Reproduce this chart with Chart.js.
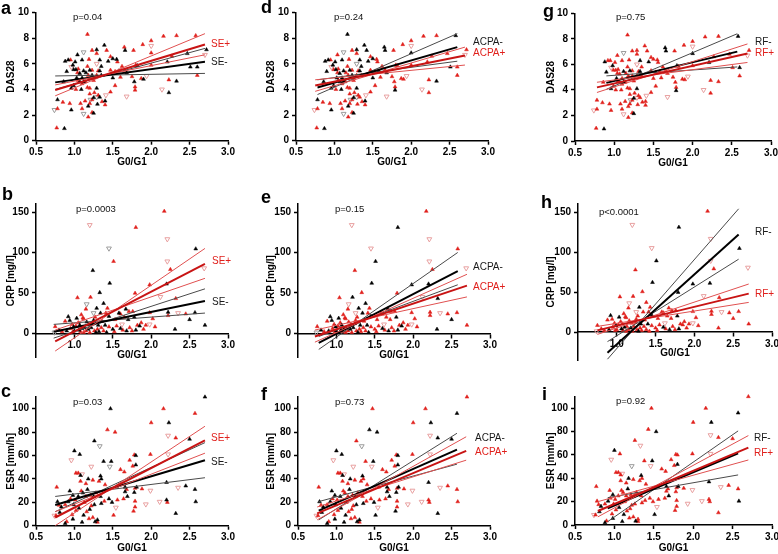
<!DOCTYPE html>
<html>
<head>
<meta charset="utf-8">
<title>G0/G1 vs DAS28, CRP and ESR</title>
<script src="https://cdn.jsdelivr.net/npm/chart.js@4.4.1/dist/chart.umd.min.js"></script>
<style>
  body { margin: 0; background: #fff; }
  #fig { position: relative; width: 778px; height: 554px; overflow: hidden; font-family: "Liberation Sans", Arial, sans-serif; }
  #fig canvas { position: absolute; }
  .txt { position: absolute; line-height: 0; white-space: nowrap; }
</style>
</head>
<body>
<div id="fig"></div>
<script>
// ---- tick labels ----
const X_TICKS = [0.5, 1.0, 1.5, 2.0, 2.5, 3.0];
const X_TICKS_CRP = [1.0, 1.5, 2.0, 2.5, 3.0];
const DAS_TICKS = [0, 2, 4, 6, 8, 10];
const CRP_TICKS = [0, 50, 100, 150];
const ESR_TICKS = [0, 20, 40, 60, 80, 100];

// ---- DAS28 patients (1 = SE+/ACPA+/RF+, open = hollow down triangle) ----
const dasX = [
  0.77,0.87,0.74,0.78,0.78,0.85,0.86,0.90,0.92,0.95,
  0.98,0.96,0.94,0.96,0.99,1.02,1.05,1.12,1.04,1.07,
  1.15,1.17,1.20,1.18,1.23,1.23,1.31,1.33,1.29,1.35,
  1.25,1.10,1.03,1.05,1.07,1.10,1.12,1.14,0.99,0.96,
  1.02,1.09,1.17,1.20,1.29,1.26,1.31,1.29,1.33,1.41,
  1.40,1.20,1.25,1.23,1.18,1.20,1.21,1.14,1.08,1.10,
  1.12,1.18,1.23,1.25,1.36,1.40,1.30,1.17,1.39,1.65,
  1.66,1.89,2.00,2.16,2.33,2.58,1.77,2.00,2.00,1.42,
  1.47,1.50,1.55,1.56,1.29,1.23,1.12,1.29,1.29,1.33,
  1.19,1.04,1.10,1.01,1.47,1.53,1.58,1.62,1.60,1.50,
  1.47,1.53,1.66,1.68,1.75,1.78,1.79,1.79,1.87,1.90,
  1.80,1.82,1.68,1.94,2.00,2.21,2.23,2.23,2.14,2.27,
  2.33,2.47,2.51,2.60,2.60,2.72,2.70,1.35,1.44,0.88];
const dasY = [
  1.0,0.95,2.4,2.5,3.2,3.0,4.6,5.4,6.3,6.3,
  5.9,5.75,2.9,2.4,5.55,5.55,5.6,5.45,5.3,5.25,
  5.3,5.8,5.5,5.1,5.5,5.1,5.45,5.45,5.1,5.1,
  4.7,4.9,4.9,4.7,4.6,4.45,4.6,4.6,4.3,4.1,
  4.0,4.0,4.15,4.1,4.1,3.75,3.55,3.4,3.4,3.55,
  3.1,3.65,3.35,3.2,2.7,2.9,3.2,3.1,2.9,2.5,
  2.1,1.85,2.2,2.15,3.05,2.8,2.85,8.3,7.45,7.3,
  7.05,7.5,7.8,8.15,8.2,8.2,7.05,7.4,6.85,7.05,
  6.55,6.4,6.35,6.15,7.1,7.05,6.9,6.8,6.0,6.3,
  6.35,6.7,6.3,6.15,5.5,5.4,5.45,5.8,4.95,4.9,
  3.8,4.3,5.5,5.3,5.0,4.6,4.2,3.95,4.85,4.8,
  5.9,5.85,3.45,5.05,5.9,6.15,4.75,3.75,4.0,6.6,
  4.65,6.8,5.75,5.75,5.1,7.1,6.7,5.8,6.2,6.2];
const dasSE = [
  1,0,0,1,0,1,0,0,0,1, 0,1,1,0,0,0,1,0,1,0, 0,1,0,1,1,0,1,0,1,0,
  1,0,0,1,0,1,0,1,0,0, 1,0,1,1,0,1,1,0,0,1, 0,1,0,1,0,1,0,1,1,1,
  0,1,1,0,1,1,0,1,0,1, 0,1,1,1,1,1,1,1,1,1, 1,0,0,1,0,1,0,1,1,0,
  1,0,0,0,1,1,0,1,1,0, 1,1,1,0,1,0,1,1,1,0, 1,0,1,1,1,0,1,0,1,1,
  0,0,0,0,1,0,1,0,0,0];
const dasACPA = [
  1,0,1,1,0,1,0,0,0,1, 0,1,1,0,1,0,1,0,1,0, 1,1,0,1,1,0,1,0,1,1,
  1,0,0,1,0,1,0,1,0,0, 1,0,1,1,0,1,1,0,1,1, 0,1,0,1,0,1,0,1,1,1,
  0,1,1,0,1,1,1,0,0,0, 0,1,1,1,1,0,1,1,0,0, 1,0,1,1,0,1,0,1,0,0,
  1,1,0,0,1,1,0,1,1,0, 1,1,1,0,1,1,1,0,1,1, 1,1,1,1,1,1,1,1,1,1,
  0,1,0,1,1,1,1,0,0,0];
const dasRF = [
  1,0,1,1,1,1,1,0,1,1, 0,1,1,1,1,1,1,0,1,1, 1,1,0,1,1,1,1,0,1,1,
  1,1,0,1,1,1,0,1,1,0, 1,1,1,1,0,1,1,1,1,1, 1,1,0,1,1,1,0,1,1,1,
  1,1,1,0,1,1,1,1,1,0, 0,1,1,1,1,0,1,1,0,1, 1,1,1,1,1,1,0,1,1,0,
  1,1,1,1,1,1,1,1,1,1, 1,1,1,1,1,1,1,0,1,1, 0,1,1,1,1,0,1,1,1,1,
  1,1,1,0,1,1,1,1,0,0];
const dasOpen = [
  0,0,1,0,0,0,0,0,0,0, 0,1,0,0,0,0,0,0,0,0, 0,0,0,0,0,0,0,0,0,0,
  0,0,0,0,0,0,0,0,0,0, 0,0,0,0,0,0,0,1,0,1, 0,0,0,0,0,0,1,0,0,0,
  1,0,0,0,0,0,0,0,0,0, 0,0,0,0,0,0,0,1,0,0, 0,0,0,0,0,0,1,0,1,0,
  0,0,0,0,0,0,0,0,0,0, 0,0,0,0,0,0,0,0,0,0, 0,0,1,1,0,0,0,0,1,0,
  0,0,0,0,0,0,1,0,0,0];

// ---- CRP patients ----
const crpX = [
  1.20,2.17,1.80,2.21,1.45,2.58,2.21,1.51,2.69,2.25,
  1.24,1.46,2.20,1.98,1.21,1.33,1.79,1.04,1.16,1.38,
  1.43,1.29,2.32,2.12,2.45,2.57,2.50,2.70,2.31,2.22,
  2.22,2.35,1.98,1.98,1.93,1.87,1.85,1.78,1.71,1.76,
  1.67,1.60,1.58,1.53,1.45,1.41,1.36,1.34,1.27,1.25,
  1.19,1.12,1.10,1.05,0.99,0.92,0.94,0.88,1.03,1.11,
  0.75,0.74,0.80,0.84,0.90,0.95,1.00,1.02,1.06,1.08,
  1.13,1.15,1.18,1.20,1.22,1.26,1.28,1.30,1.32,1.35,
  1.38,1.42,1.45,1.50,1.52,1.55,1.60,1.63,1.68,1.72,
  1.75,1.80,1.82,1.90,2.05,1.12,0.97,1.07,1.16,1.24,
  1.31,1.25,1.62,1.09,1.40,1.65,1.70,2.02,1.15,0.98];
const crpY = [
  134,151,131,116.5,105,104.5,89,89,80.5,79,
  77.7,62,61,60,44.6,50.4,49.6,44,36,37,
  31,31,43,45,24,25.6,17,10,5,26,
  22,25,25.6,11,10,13,9,20,27,27,
  30,24,25,17,21,25,15,25,20,16,
  11,18,6,13,8,20.6,16,15,18.6,19,
  8.3,1,4,2,3,6,3,9,4,2,
  7,3,5,1,7,3,1,5,2,7,
  3,1,8,5,2,9,6,4,3,7,
  3,4,10,5,8,1,11,10,14,12,
  10,25,11,23,10,20,17,18,30,2];
const crpSE = [
  1,1,1,1,0,0,1,1,1,1, 0,0,0,1,1,0,1,1,0,0, 1,0,1,1,1,0,0,0,0,0,
  1,1,1,1,1,1,0,0,1,1, 0,1,0,1,0,1,1,0,1,0, 1,1,0,1,0,0,0,1,0,1,
  1,0,0,1,0,1,0,1,0,1, 0,1,0,1,0,1,0,1,0,1, 1,0,1,0,1,1,0,1,0,1,
  1,0,1,1,1,1,1,0,0,1, 0,0,1,1,0,1,0,1,1,1];
const crpACPA = [
  1,1,0,1,1,1,1,0,1,1, 1,0,0,0,0,1,1,1,1,0, 1,0,0,1,1,1,0,1,0,1,
  1,1,1,1,1,1,0,0,1,1, 0,1,1,1,0,1,1,0,1,1, 1,1,0,1,0,0,0,1,0,1,
  1,0,0,1,0,1,0,1,0,1, 1,1,0,1,0,1,0,1,1,1, 1,0,1,1,1,1,0,1,0,1,
  1,0,1,1,1,1,1,0,1,1, 0,1,1,1,0,1,1,1,1,1];
const crpRF = [
  1,1,0,1,1,0,1,0,1,1, 1,0,0,0,1,1,0,1,1,1, 1,0,1,1,1,1,1,1,1,1,
  1,1,1,1,1,1,1,0,1,1, 1,1,1,1,0,1,1,1,1,1, 1,1,0,1,0,0,1,1,0,1,
  1,1,1,1,0,1,1,1,0,1, 1,1,0,1,1,1,0,1,1,1, 1,1,1,1,1,1,0,1,0,1,
  1,0,1,1,1,1,1,1,1,1, 0,1,1,1,0,1,1,1,1,1];
const crpOpen = [
  1,0,0,1,1,0,1,0,1,0, 0,0,0,0,0,0,0,0,1,0, 0,0,0,1,0,0,0,0,0,0,
  0,1,0,1,0,0,0,0,0,0, 0,0,0,0,0,0,0,0,0,0, 0,0,0,0,0,0,0,0,0,0,
  0,1,0,0,0,0,0,0,0,0, 0,0,0,0,0,0,0,0,0,0, 0,0,0,0,0,0,0,0,0,0,
  0,0,0,0,0,0,0,0,0,0, 0,1,1,0,0,0,0,0,0,0];

// ---- ESR patients ----
const esrX = [
  2.70,1.47,2.16,2.57,2.23,2.00,1.43,1.53,2.22,2.32,
  2.50,1.26,1.00,1.07,0.96,1.33,1.78,1.80,2.22,1.99,
  1.38,1.48,1.60,1.72,1.76,1.80,1.46,1.22,1.05,1.02,
  1.08,1.10,1.34,1.35,1.32,1.15,1.18,1.24,1.65,1.66,
  1.79,1.68,1.40,1.55,1.66,1.78,1.81,1.99,1.88,2.20,
  2.35,2.45,2.57,2.58,2.32,2.20,2.21,2.11,1.93,1.79,
  1.77,1.79,1.69,1.64,1.54,1.56,1.51,1.49,1.45,1.39,
  1.35,1.26,1.22,1.16,1.12,1.24,1.30,1.27,1.30,1.19,
  1.10,0.98,0.97,0.88,0.90,0.81,0.78,0.77,0.80,0.74,
  0.76,0.83,0.88,0.92,0.95,0.94,0.98,1.01,1.05,1.09,
  1.11,1.15,1.17,1.21,1.25,1.28,1.34,1.06,1.02,1.13,
  1.20,0.99,1.08];
const esrY = [
  110,100,100,96,88,88,82,80,77,75,
  74,72.5,64,61,56,68,60.5,60,61,61,
  55,55,48,56,51,52,50.5,50.5,45,45,
  43,44,42.5,40,38,36,40,39,46,33,
  32,31,35,33,29,28.5,33,30,31.5,37,
  32.5,34,31,20.5,10.5,22,20,20.5,18.3,21,
  12.5,16,25,23,15.5,22,9,20,23,21,
  19,18,17,12,9,7,5,3.4,3,6,
  3,5.7,9.5,2,3.5,11.4,20.5,33,17.5,8.6,
  8.6,16,18,20.5,23,29.7,26,22,25,29.7,
  28,25,31,26,25,28,25,15,13,20,
  14,18,38];
const esrSE = [
  0,0,1,1,0,1,1,1,1,1, 0,0,0,0,1,0,1,0,1,1, 0,0,1,1,1,0,0,1,1,1,
  0,1,0,0,1,1,0,1,1,0, 1,1,1,0,0,0,0,1,1,0, 1,0,0,0,0,0,1,1,1,1,
  1,1,0,1,1,1,1,0,0,1, 0,0,1,1,0,1,0,0,1,1, 0,0,1,0,1,0,0,1,1,1,
  1,0,1,0,1,0,0,1,0,1, 0,1,0,1,0,1,0,0,1,1, 0,0,1];
const esrACPA = [
  1,1,1,0,0,1,0,0,1,0, 0,1,0,0,1,0,1,0,1,1, 1,0,1,1,1,0,1,1,1,1,
  0,1,0,1,1,1,0,1,1,0, 1,1,1,1,0,0,0,1,1,0, 1,1,1,1,0,1,1,1,1,1,
  0,1,0,1,1,1,0,0,1,1, 0,0,1,1,0,1,0,0,1,1, 0,0,1,0,1,0,0,1,1,1,
  1,0,1,0,1,0,0,1,0,1, 1,1,0,1,0,1,1,0,1,1, 1,0,1];
const esrRF = [
  1,1,1,0,0,1,1,0,1,1, 1,1,0,1,1,1,1,1,1,1, 1,0,1,1,1,0,1,0,1,1,
  1,1,0,1,1,1,0,1,1,0, 1,1,1,1,1,1,0,1,1,0, 1,1,1,0,1,1,1,1,1,1,
  1,1,0,1,1,1,0,1,1,1, 1,1,1,1,0,1,1,0,1,1, 0,0,1,0,1,0,1,1,1,1,
  1,0,1,0,1,1,0,1,1,1, 1,1,0,1,1,1,1,0,1,1, 1,1,1];
const esrOpen = [
  0,0,0,0,0,0,0,0,1,0, 0,0,0,0,1,1,0,0,1,0, 0,0,0,0,0,0,1,1,0,0,
  0,1,0,0,0,0,0,0,0,0, 0,0,0,0,0,0,0,1,0,0, 1,0,0,0,0,0,0,1,1,0,
  0,0,0,0,1,0,0,0,0,0, 0,0,0,0,0,0,0,0,0,0, 0,0,0,0,0,0,0,0,0,1,
  0,0,0,0,0,0,0,0,0,0, 0,0,0,0,0,0,0,0,0,0, 0,0,0];

// ---- regression lines: x ends, then y at both ends for the fit and the two slope-CI lines ----
const aNeg = {x: [0.75, 2.70], fit: [4.55, 6.15], ci1: [4.00, 7.20], ci2: [5.05, 5.25]};
const aPos = {x: [0.75, 2.70], fit: [3.95, 7.50], ci1: [3.50, 8.35], ci2: [4.35, 6.70]};
const dNeg = {x: [0.78, 2.60], fit: [4.15, 7.30], ci1: [3.60, 8.35], ci2: [4.75, 6.20]};
const dPos = {x: [0.75, 2.70], fit: [4.30, 6.65], ci1: [3.85, 7.30], ci2: [4.75, 5.90]};
const gNeg = {x: [0.90, 2.57], fit: [4.55, 7.00], ci1: [4.05, 8.40], ci2: [5.10, 5.80]};
const gPos = {x: [0.78, 2.70], fit: [4.20, 6.85], ci1: [3.80, 7.60], ci2: [4.60, 6.15]};
const bNeg = {x: [0.73, 2.70], fit: [2, 40], ci1: [-6, 55], ci2: [11, 25]};
const bPos = {x: [0.75, 2.70], fit: [-10, 86], ci1: [-22, 105], ci2: [4, 68]};
const eNeg = {x: [0.77, 2.58], fit: [-12, 77], ci1: [-20, 100], ci2: [-4, 60]};
const ePos = {x: [0.72, 2.70], fit: [-4, 59], ci1: [-11, 73], ci2: [4, 45]};
const hNeg = {x: [0.88, 2.57], fit: [-26, 122], ci1: [-34, 154], ci2: [-12, 91]};
const hPos = {x: [0.75, 2.70], fit: [2, 48], ci1: [-3, 60], ci2: [7, 37]};
const cNeg = {x: [0.75, 2.70], fit: [17.7, 56], ci1: [12, 71], ci2: [25, 41]};
const cPos = {x: [0.75, 2.70], fit: [7, 73], ci1: [0, 85], ci2: [12, 62]};
const fNeg = {x: [0.77, 2.57], fit: [12.9, 65], ci1: [5, 79], ci2: [20.6, 52.6]};
const fPos = {x: [0.75, 2.69], fit: [10.6, 64], ci1: [5, 76], ci2: [16, 56]};
const iNeg = {x: [0.915, 2.57], fit: [14.3, 61.4], ci1: [2.9, 80.6], ci2: [23.4, 42.9]};
const iPos = {x: [0.79, 2.70], fit: [12, 66.3], ci1: [7, 76.6], ci2: [20, 55.7]};

// ---- colours ----
const RED = "#e0201c", RED_FIT = "#c81414", RED_CI = "#e05050";
const PINK = "#e8a0a0", GREY = "#9c9c9c", BLACK = "#000", BLACK_CI = "#4a4a4a";

const measures = {
  das: {x: dasX, y: dasY, se: dasSE, acpa: dasACPA, rf: dasRF, open: dasOpen},
  crp: {x: crpX, y: crpY, se: crpSE, acpa: crpACPA, rf: crpRF, open: crpOpen},
  esr: {x: esrX, y: esrY, se: esrSE, acpa: esrACPA, rf: esrRF, open: esrOpen}
};

const rowSetup = [
  {title: "DAS28", min: 0, max: 10, yt: DAS_TICKS, xt: X_TICKS},
  {title: "CRP [mg/l]", min: -30, max: 160, yt: CRP_TICKS, xt: X_TICKS_CRP},
  {title: "ESR [mm/h]", min: 0, max: 110, yt: ESR_TICKS, xt: X_TICKS}
];

// canvas slots and the chart area (left, right, top, bottom) inside the page
const cols = [{x0: 0, w: 260}, {x0: 260, w: 258}, {x0: 518, w: 260}];
const rows = [{y0: 0, h: 180}, {y0: 180, h: 185}, {y0: 365, h: 189}];

const panels = [
  {m: "das", grp: "se",   col: 0, row: 0, area: [36, 228, 12.5, 140.7],  neg: aNeg, pos: aPos},
  {m: "das", grp: "acpa", col: 1, row: 0, area: [296, 488, 12.5, 140.7], neg: dNeg, pos: dPos},
  {m: "das", grp: "rf",   col: 2, row: 0, area: [575, 771, 13.3, 141],   neg: gNeg, pos: gPos},
  {m: "crp", grp: "se",   col: 0, row: 1, area: [36, 228, 204, 357.5],   neg: bNeg, pos: bPos},
  {m: "crp", grp: "acpa", col: 1, row: 1, area: [298, 490, 204, 357.5],  neg: eNeg, pos: ePos},
  {m: "crp", grp: "rf",   col: 2, row: 1, area: [578, 772, 204, 362], ymin: -35, neg: hNeg, pos: hPos},
  {m: "esr", grp: "se",   col: 0, row: 2, area: [36, 228, 397, 525.7],   neg: cNeg, pos: cPos},
  {m: "esr", grp: "acpa", col: 1, row: 2, area: [298, 490, 397, 525.7],  neg: fNeg, pos: fPos},
  {m: "esr", grp: "rf",   col: 2, row: 2, area: [575, 772, 396.6, 525],  neg: iNeg, pos: iPos}
];

// text: letter, p value, upper and lower group label (x, baseline)
const texts = [
  ["a", 1, 14,   "p=0.04",   73, 20,   ["SE+", RED, 211, 47.5],    ["SE-", BLACK, 211, 65]],
  ["d", 261, 13, "p=0.24",   334, 20,  ["ACPA-", BLACK, 473, 45.7], ["ACPA+", RED, 473, 56.7]],
  ["g", 543, 17, "p=0.75",   616, 20,  ["RF-", BLACK, 755, 45.7],  ["RF+", RED, 755, 56.7]],
  ["b", 2, 200,  "p=0.0003", 76, 212,  ["SE+", RED, 212, 264],     ["SE-", BLACK, 212, 305.7]],
  ["e", 261, 203,"p=0.15",   335, 212, ["ACPA-", BLACK, 473, 270], ["ACPA+", RED, 473, 290]],
  ["h", 541, 208,"p<0.0001", 599, 215, ["RF-", BLACK, 755, 235],   ["RF+", RED, 755, 297]],
  ["c", 1, 397,  "p=0.03",   73, 405,  ["SE+", RED, 211, 441],     ["SE-", BLACK, 211, 465]],
  ["f", 261, 400,"p=0.73",   335, 405, ["ACPA-", BLACK, 475, 441], ["ACPA+", RED, 475, 455.7]],
  ["i", 542, 400,"p=0.92",   616, 404, ["RF-", BLACK, 754, 441.7], ["RF+", RED, 754, 456.7]]
];

const fig = document.getElementById("fig");
Chart.defaults.font.family = '"Liberation Sans", Arial, sans-serif';
Chart.defaults.color = "#000";

const tickFont = {size: 10, weight: "bold"};
const titleFont = {family: '"Liberation Sans Narrow", "Liberation Sans", Arial, sans-serif', size: 10, weight: "bold"};

function pickPoints(m, grp, sign, open) {
  const out = [];
  m.x.forEach((x, i) => {
    if (m[grp][i] === sign && m.open[i] === open) out.push({x: x, y: m.y[i]});
  });
  return out;
}

function lineSets(l, fitColor, ciColor, order) {
  const seg = ys => [{x: l.x[0], y: ys[0]}, {x: l.x[1], y: ys[1]}];
  const base = {showLine: true, pointRadius: 0, order: order, fill: false};
  return [
    Object.assign({data: seg(l.fit), borderColor: fitColor, borderWidth: 2}, base),
    Object.assign({data: seg(l.ci1), borderColor: ciColor, borderWidth: 1}, base),
    Object.assign({data: seg(l.ci2), borderColor: ciColor, borderWidth: 1}, base)
  ];
}

function makePanel(p) {
  const col = cols[p.col], row = rows[p.row], rs = rowSetup[p.row];
  const [L, R, T, B] = p.area;
  const m = measures[p.m];

  const cv = document.createElement("canvas");
  cv.width = col.w; cv.height = row.h;
  cv.style.left = col.x0 + "px"; cv.style.top = row.y0 + "px";
  fig.appendChild(cv);

  let xH, padBottom;
  if (p.row === 0) { xH = 28; padBottom = row.h - (B - row.y0) - xH; }
  else if (p.row === 1) { xH = 27.7; padBottom = row.y0 + row.h - B; }
  else { xH = row.y0 + row.h - B; padBottom = 0; }
  const yW = L - col.x0;
  const titleCenter = p.col === 2 ? 33 : 11;

  const datasets = [
    {data: pickPoints(m, p.grp, 0, 0), pointStyle: "triangle", pointRadius: 2.2, clip: false,
     backgroundColor: BLACK, borderColor: BLACK, borderWidth: 0.5, order: 3},
    {data: pickPoints(m, p.grp, 1, 0), pointStyle: "triangle", pointRadius: 2.2, clip: false,
     backgroundColor: RED, borderColor: RED, borderWidth: 0.5, order: 3},
    {data: pickPoints(m, p.grp, 0, 1), pointStyle: "triangle", rotation: 180, pointRadius: 2.8, clip: false,
     backgroundColor: "rgba(255,255,255,0)", borderColor: GREY, borderWidth: 1, order: 4},
    {data: pickPoints(m, p.grp, 1, 1), pointStyle: "triangle", rotation: 180, pointRadius: 2.8, clip: false,
     backgroundColor: "rgba(255,255,255,0)", borderColor: PINK, borderWidth: 1, order: 4}
  ].concat(lineSets(p.neg, BLACK, BLACK_CI, 1), lineSets(p.pos, RED_FIT, RED_CI, 0));

  const axisGrid = {display: true, drawOnChartArea: false, drawTicks: true, tickLength: 4,
                    tickColor: "#000", tickWidth: 1.5};
  const axisBorder = {display: true, color: "#000", width: 1.5};

  new Chart(cv, {
    type: "scatter",
    data: {datasets: datasets},
    options: {
      responsive: false,
      animation: false,
      devicePixelRatio: 1,
      events: [],
      layout: {padding: {left: 0, top: T - row.y0, right: col.x0 + col.w - R, bottom: padBottom}},
      plugins: {legend: {display: false}, tooltip: {enabled: false}},
      scales: {
        x: {
          type: "linear", min: 0.5, max: 3.0,
          position: p.row === 1 ? {y: 0} : "bottom",
          afterBuildTicks: s => { s.ticks = rs.xt.map(v => ({value: v})); },
          afterFit: s => { s.height = xH; s.paddingLeft = 0; s.paddingRight = 0; },
          grid: axisGrid, border: axisBorder,
          ticks: {color: "#000", font: tickFont, padding: 2, autoSkip: false, maxRotation: 0,
                  callback: v => v.toFixed(1)},
          title: {display: true, text: "G0/G1", color: "#000", font: titleFont, padding: 0}
        },
        y: {
          type: "linear", min: p.ymin !== undefined ? p.ymin : rs.min, max: rs.max,
          position: "left",
          afterBuildTicks: s => { s.ticks = rs.yt.map(v => ({value: v})); },
          afterFit: s => { s.width = yW; s.paddingTop = 0; s.paddingBottom = 0; },
          grid: axisGrid, border: axisBorder,
          ticks: {color: "#000", font: tickFont, padding: 3},
          title: {display: true, text: rs.title, color: "#000", font: titleFont,
                  padding: {top: titleCenter - 6, bottom: 0}}
        }
      }
    }
  });
}

function addText(str, x, baseline, size, color, weight) {
  const d = document.createElement("div");
  d.className = "txt";
  d.textContent = str;
  d.style.left = x + "px";
  d.style.top = (baseline - 0.3465 * size) + "px";
  d.style.fontSize = size + "px";
  d.style.color = color;
  if (weight) d.style.fontWeight = weight;
  fig.appendChild(d);
}

panels.forEach(makePanel);

texts.forEach(t => {
  addText(t[0], t[1], t[2], 18, "#000", "bold");
  addText(t[3], t[4], t[5], 9.5, "#111");
  addText(t[6][0], t[6][2], t[6][3], 10, t[6][1] === RED ? RED : "#1a1a1a");
  addText(t[7][0], t[7][2], t[7][3], 10, t[7][1] === RED ? RED : "#1a1a1a");
});
</script>
</body>
</html>
